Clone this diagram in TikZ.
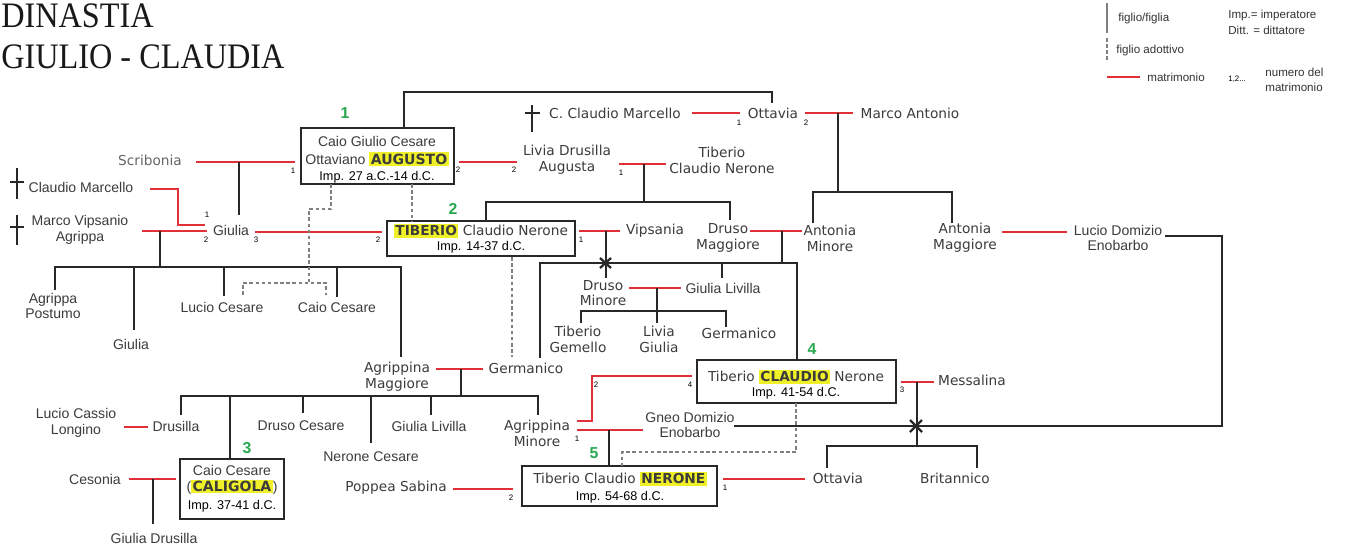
\documentclass[tikz,border=0pt]{standalone}
\usepackage{fontspec}
\usepackage{graphicx}
\setmainfont{Liberation Sans}
\newfontfamily\vf{DejaVu Sans}
\newfontfamily\af{Liberation Sans}
\newfontfamily\tf{Liberation Serif}
\definecolor{mred}{RGB}{226,48,56}
\definecolor{hly}{RGB}{240,240,40}
\definecolor{gnum}{RGB}{40,168,80}
\definecolor{txt}{RGB}{60,60,60}
\definecolor{ln}{RGB}{40,40,40}
\newcommand{\hl}[1]{{\setlength{\fboxsep}{0.8pt}\colorbox{hly}{#1}}}
\begin{document}
\begin{tikzpicture}[x=0.02cm, y=-0.02cm,
  V/.style={font=\vf\fontsize{7.8}{9}\selectfont, text=txt, align=center, inner sep=0pt},
  A/.style={font=\af\fontsize{8}{9}\selectfont, text=txt, align=center, inner sep=0pt},
  imp/.style={font=\af\fontsize{7.2}{8}\selectfont, text=black, inner sep=0pt},
  bx/.style={draw=ln, line width=1.1pt, inner sep=0pt},
  mar/.style={draw=mred, line width=1.1pt},
  kid/.style={draw=ln, line width=1.1pt},
  adop/.style={draw=gray, line width=0.9pt, dash pattern=on 2pt off 1.5pt},
  num/.style={font=\af\fontsize{4.5}{5}\selectfont, text=black, inner sep=0pt},
  gn/.style={font=\af\bfseries\fontsize{9}{10}\selectfont, text=gnum, inner sep=0pt},
  lg/.style={font=\af\fontsize{6.6}{7.5}\selectfont, text=black!80, inner sep=0pt, anchor=west},
  ttl/.style={font=\tf\fontsize{20.4}{24}\selectfont, text=black!90, anchor=base west, inner sep=0pt},
  crossm/.style={draw=ln, line width=1.2pt}
]
\useasboundingbox (0,0) rectangle (1350,549);
\fill[white] (0,0) rectangle (1350,549);

% title
\node[ttl] (title1) at (1,27) {\scalebox{0.9}[1]{DINASTIA}};
\node[ttl] (title2) at (1,68) {\scalebox{0.9}[1]{GIULIO - CLAUDIA}};

% legend
\draw[draw=gray, line width=1pt] (1107,3) coordinate (lgA) -- (1107,33) coordinate (lgB);
\node[lg] (lgf) at (1118,18) {figlio/figlia};
\node[lg] (lgi) at (1228,15) {Imp.= imperatore};
\node[lg] (lgd) at (1228,30) {Ditt. = dittatore};
\draw[adop] (1107,38) coordinate (lgC) -- (1107,62) coordinate (lgD);
\node[lg] (lga) at (1116,50) {figlio adottivo};
\draw[mar] (1107,77) coordinate (lgE) -- (1140,77) coordinate (lgF);
\node[lg] (lgm) at (1147,77) {matrimonio};
\node[num, anchor=west] (lgn) at (1228,79) {1,2...};
\node[lg] (lgn1) at (1265,72) {numero del};
\node[lg] (lgn2) at (1265,87) {matrimonio};

% boxes
\node[bx, minimum width=3.06cm, minimum height=1.12cm] (aug) at (377.5,156) {};
\node[A] (aug1) at (377,141) {Caio Giulio Cesare};
\node[A] (aug2) at (377,159) {Ottaviano \hl{\vf\bfseries AUGUSTO}};
\node[imp] (aug3) at (377,177) {Imp. 27 a.C.-14 d.C.};
\node[gn] (g1) at (345,113) {1};

\node[bx, minimum width=3.76cm, minimum height=0.70cm] (tib) at (481,238.5) {};
\node[V] (tib1) at (481,231) {\hl{\bfseries TIBERIO} Claudio Nerone};
\node[imp] (tib2) at (481,247) {Imp. 14-37 d.C.};
\node[gn] (g2) at (453,209) {2};

\node[bx, minimum width=2.08cm, minimum height=1.2cm] (cal) at (232,489) {};
\node[A] (cal1) at (232,470) {Caio Cesare};
\node[A] (cal2) at (232,487) {(\hl{\vf\bfseries CALIGOLA})};
\node[imp] (cal3) at (232,506) {Imp. 37-41 d.C.};
\node[gn] (g3) at (247,448) {3};

\node[bx, minimum width=3.98cm, minimum height=0.86cm] (cla) at (796.5,381.5) {};
\node[V] (cla1) at (796,377) {Tiberio \hl{\bfseries CLAUDIO} Nerone};
\node[imp] (cla2) at (796,393) {Imp. 41-54 d.C.};
\node[gn] (g4) at (812,349) {4};

\node[bx, minimum width=3.9cm, minimum height=0.8cm] (ner) at (619.5,486) {};
\node[V] (ner1) at (620,479) {Tiberio Claudio \hl{\bfseries NERONE}};
\node[imp] (ner2) at (620,497) {Imp. 54-68 d.C.};
\node[gn] (g5) at (594,453) {5};

% names
\node[V, text=black!60] (scrib) at (150,160) {Scribonia};
\node[A] (cmarc) at (81,187) {Claudio Marcello};
\node[A] (mvip) at (80,230) {Marco Vipsanio\\Agrippa};
\node[A] (giulia) at (231,230) {Giulia};
\node[V] (ccm) at (615,113) {C. Claudio Marcello};
\node[V] (ott) at (773,113) {Ottavia};
\node[V] (manto) at (910,113) {Marco Antonio};
\node[V] (livia) at (567,160) {Livia Drusilla\\Augusta};
\node[V] (tcn) at (722,160) {Tiberio\\Claudio Nerone};
\node[V] (vips) at (655,231) {Vipsania};
\node[V] (drusoM) at (728,238) {Druso\\Maggiore};
\node[V] (antMin) at (830,238) {Antonia\\Minore};
\node[V] (antMag) at (965,238) {Antonia\\Maggiore};
\node[A] (lucioD) at (1118,238) {Lucio Domizio\\Enobarbo};
\node[V] (drusoMin) at (603,293) {Druso\\Minore};
\node[A] (gliv) at (723,288) {Giulia Livilla};
\node[V] (tgem) at (578,339) {Tiberio\\Gemello};
\node[V] (lgiu) at (659,339) {Livia\\Giulia};
\node[V] (germ2) at (739,333) {Germanico};
\node[A] (apost) at (53,306) {Agrippa\\Postumo};
\node[A] (giulia2) at (131,344) {Giulia};
\node[A] (lces) at (222,307) {Lucio Cesare};
\node[A] (cces) at (337,307) {Caio Cesare};
\node[V] (agrMag) at (397,377) {Agrippina\\Maggiore};
\node[V] (germ) at (526,368) {Germanico};
\node[V] (mess) at (972,380) {Messalina};
\node[A] (lcas) at (76,423) {Lucio Cassio\\Longino};
\node[A] (drusilla) at (176,426) {Drusilla};
\node[A] (drusoC) at (301,426) {Druso Cesare};
\node[A] (neroneC) at (371,457) {Nerone Cesare};
\node[A] (gliv2) at (429,426) {Giulia Livilla};
\node[V] (agrMin) at (537,433) {Agrippina\\Minore};
\node[A] (gneo) at (690,425) {Gneo Domizio\\Enobarbo};
\node[A] (ceso) at (95,479) {Cesonia};
\node[A] (gdrus) at (154,538) {Giulia Drusilla};
\node[V] (popp) at (396,488) {Poppea Sabina};
\node[V] (ott2) at (838,478) {Ottavia};
\node[V] (brit) at (955,478) {Britannico};

% crosses (deceased)
\draw[crossm] (17,168) -- (17,199) (10,182) -- (24,182);
\draw[crossm] (17,215) -- (17,245) (10,227) -- (24,227);
\draw[crossm] (532,105) -- (532,132) (525,113) -- (540,113);

% top link
\draw[kid] (404,128) coordinate (k0a) -- (404,92) coordinate (k0b) -- (772,92) coordinate (k0c) -- (772,103) coordinate (k0d);
% Scribonia - Augusto
\draw[mar] (196,162) coordinate (m1a) -- (295,162) coordinate (m1b);
\draw[kid] (239,162) coordinate (m1c) -- (239,215) coordinate (m1d);
% Augusto - Livia
\draw[mar] (459,162) coordinate (m2a) -- (517,162) coordinate (m2b);
% Livia - Tiberio Claudio Nerone
\draw[mar] (619,164) coordinate (m3a) -- (666,164) coordinate (m3b);
\draw[kid] (644,164) coordinate (m3c) -- (644,202) coordinate (m3d);
\draw[kid] (486,221) coordinate (m3e) -- (486,202) -- (730,202) -- (730,220) coordinate (m3f);
% C. Claudio Marcello - Ottavia
\draw[mar] (692,113) coordinate (m4a) -- (740,113) coordinate (m4b);
% Ottavia - Marco Antonio
\draw[mar] (805,113) coordinate (m5a) -- (853,113) coordinate (m5b);
\draw[kid] (838,113) coordinate (m5c) -- (838,192) coordinate (m5d);
\draw[kid] (813,223) coordinate (m5e) -- (813,192) -- (952,192) -- (952,223) coordinate (m5f);
% Claudio Marcello - Giulia
\draw[mar] (150,189) coordinate (m6a) -- (178,189) -- (178,225) -- (205,225) coordinate (m6b);
% Agrippa - Giulia
\draw[mar] (142,231) coordinate (m7a) -- (207,231) coordinate (m7b);
\draw[kid] (160,231) coordinate (m7c) -- (160,267) coordinate (m7d);
\draw[kid] (55,290) coordinate (m7e) -- (55,267) -- (401,267) -- (401,357) coordinate (m7f);
\draw[kid] (134,267) -- (134,330) coordinate (m7g);
\draw[kid] (224,267) -- (224,296) coordinate (m7h);
\draw[kid] (337,267) -- (337,297) coordinate (m7i);
% Giulia - Tiberio
\draw[mar] (255,232) coordinate (m8a) -- (382,232) coordinate (m8b);
% Tiberio - Vipsania
\draw[mar] (579,231) coordinate (m9a) -- (620,231) coordinate (m9b);
\draw[kid] (606,231) coordinate (m9c) -- (606,278) coordinate (m9d);
% Druso Maggiore - Antonia Minore
\draw[mar] (750,231) coordinate (m10a) -- (802,231) coordinate (m10b);
\draw[kid] (782,231) coordinate (m10c) -- (782,263) coordinate (m10d);
\draw[kid] (540,358) coordinate (m10e) -- (540,263) -- (797,263) -- (797,360) coordinate (m10f);
\draw[kid] (722,263) -- (722,278) coordinate (m10g);
\draw[kid, line width=1.3pt] (600,258) -- (611,268) (600,268) -- (611,258);
% Antonia Maggiore - Lucio Domizio
\draw[mar] (1002,232) coordinate (m11a) -- (1067,232) coordinate (m11b);
\draw[kid] (1165,236) coordinate (m11c) -- (1222,236) -- (1222,426) -- (734,426) coordinate (m11d);
\draw[kid, line width=1.3pt] (910,420) -- (922,432) (910,432) -- (922,420);
% Druso Minore - Giulia Livilla
\draw[mar] (629,288) coordinate (m12a) -- (681,288) coordinate (m12b);
\draw[kid] (657,288) coordinate (m12c) -- (657,323) coordinate (m12d);
\draw[kid] (581,323) coordinate (m12e) -- (581,311) -- (726,311) -- (726,327) coordinate (m12f);
% Agrippina Maggiore - Germanico
\draw[mar] (436,369) coordinate (m13a) -- (483,369) coordinate (m13b);
\draw[kid] (461,369) coordinate (m13c) -- (461,396) coordinate (m13d);
\draw[kid] (181,415) coordinate (m13e) -- (181,396) -- (538,396) -- (538,415) coordinate (m13f);
\draw[kid] (230,396) -- (230,459) coordinate (m13g);
\draw[kid] (303,396) -- (303,413) coordinate (m13h);
\draw[kid] (371,396) -- (371,443) coordinate (m13i);
\draw[kid] (431,396) -- (431,415) coordinate (m13j);
% Lucio Cassio - Drusilla
\draw[mar] (124,427) coordinate (m14a) -- (148,427) coordinate (m14b);
% Cesonia - Caligola
\draw[mar] (129,479) coordinate (m15a) -- (176,479) coordinate (m15b);
\draw[kid] (153,479) coordinate (m15c) -- (153,524) coordinate (m15d);
% Claudio - Agrippina Minore
\draw[mar] (692,376) coordinate (m16a) -- (592,376) -- (592,421) -- (577,421) coordinate (m16b);
% Agrippina Minore - Gneo Domizio
\draw[mar] (577,430) coordinate (m17a) -- (643,430) coordinate (m17b);
\draw[kid] (609,430) coordinate (m17c) -- (609,466) coordinate (m17d);
% Claudio - Messalina
\draw[mar] (901,382) coordinate (m18a) -- (934,382) coordinate (m18b);
\draw[kid] (917,382) coordinate (m18c) -- (917,446) coordinate (m18d);
\draw[kid] (827,468) coordinate (m18e) -- (827,446) -- (977,446) -- (977,468) coordinate (m18f);
% Poppea - Nerone
\draw[mar] (453,489) coordinate (m19a) -- (513,489) coordinate (m19b);
% Nerone - Ottavia
\draw[mar] (723,479) coordinate (m20a) -- (805,479) coordinate (m20b);

% adoptions
\draw[adop] (331,184) coordinate (a1a) -- (331,209) -- (309,209) -- (309,283) coordinate (a1b);
\draw[adop] (243,295) coordinate (a1c) -- (243,283) -- (326,283) -- (326,295) coordinate (a1d);
\draw[adop] (412,184) coordinate (a2a) -- (412,221) coordinate (a2b);
\draw[adop] (512,257) coordinate (a3a) -- (512,357) coordinate (a3b);
\draw[adop] (796,403) coordinate (a4a) -- (796,452) -- (622,452) -- (622,466) coordinate (a4b);

% marriage numbers
\node[num] (n1) at (293,171) {1};
\node[num] (n2) at (458,170) {2};
\node[num] (n3) at (514,170) {2};
\node[num] (n4) at (621,173) {1};
\node[num] (n5) at (739,123) {1};
\node[num] (n6) at (806,123) {2};
\node[num] (n7) at (207,215) {1};
\node[num] (n8) at (206,240) {2};
\node[num] (n9) at (256,240) {3};
\node[num] (n10) at (378,240) {2};
\node[num] (n11) at (581,240) {1};
\node[num] (n12) at (596,385) {2};
\node[num] (n13) at (690,385) {4};
\node[num] (n14) at (902,390) {3};
\node[num] (n15) at (577,439) {1};
\node[num] (n16) at (511,498) {2};
\node[num] (n17) at (725,488) {1};
\end{tikzpicture}
\end{document}
